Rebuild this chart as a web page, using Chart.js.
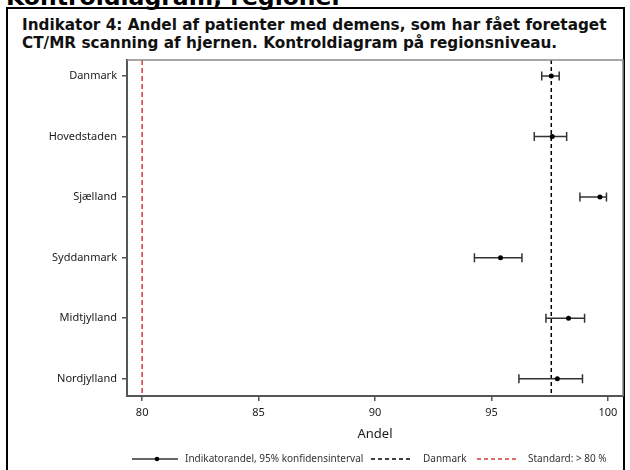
<!DOCTYPE html>
<html lang="da">
<head>
<meta charset="utf-8">
<title>Kontroldiagram, regioner</title>
<script src="https://cdn.jsdelivr.net/npm/chart.js@4/dist/chart.umd.min.js"></script>
<style>
  html, body { margin: 0; padding: 0; background: #fff; }
  #page { position: relative; width: 630px; height: 470px; overflow: hidden; background: #fff; }
  #frame { position: absolute; left: 6px; top: 7px; width: 619px; height: 500px;
           border: 2px solid #000; box-sizing: border-box; }
  #headline { position: absolute; left: 6px; top: -17px; margin: 0;
              font: bold 23.5px "DejaVu Sans", sans-serif; line-height: 28px; color: #000; white-space: nowrap; }
  #subtitle { position: absolute; left: 22px; top: 16.4px; margin: 0;
              font: bold 15.25px "DejaVu Sans", sans-serif; line-height: 18px; color: #111; white-space: nowrap; }
  #wrap { position: absolute; left: 0; top: 0; width: 630px; height: 470px; }
</style>
</head>
<body>
<div id="page">
  <div id="frame"></div>
  <div id="headline">Kontroldiagram, regioner</div>
  <div id="subtitle">Indikator 4: Andel af patienter med demens, som har fået foretaget<br>CT/MR scanning af hjernen. Kontroldiagram på regionsniveau.</div>
  <div id="wrap"><canvas id="chart"></canvas></div>
</div>
<script>
// Regions, top to bottom
const regions = ["Danmark", "Hovedstaden", "Sjælland", "Syddanmark", "Midtjylland", "Nordjylland"];
// Indicator share (%) per region
const estimate = [97.57, 97.61, 99.66, 95.39, 98.31, 97.83];
// 95% confidence interval bounds (%)
const ciLower = [97.16, 96.84, 98.80, 94.27, 97.34, 96.18];
const ciUpper = [97.91, 98.23, 99.94, 96.31, 99.00, 98.91];
// Reference levels
const nationalRate = estimate[0];
const standardRate = 80;
// Axis ticks
const xTicks = [80, 85, 90, 95, 100];
const xTitle = "Andel";
const legendLabels = ["Indikatorandel, 95% konfidensinterval", "Danmark", "Standard: > 80 %"];

const TEXT = "#1a1a1a";
const BAR = "#333";
const RED = "#d23c3c";
const FONT = '"Noto Sans", "Open Sans", sans-serif';

// Confidence intervals and reference lines, drawn under the points
const intervalPlugin = {
  id: "intervals",
  beforeDatasetsDraw(chart) {
    const { ctx, chartArea: a, scales: { x, y } } = chart;
    ctx.save();
    // standard line
    ctx.strokeStyle = RED; ctx.lineWidth = 1.5; ctx.setLineDash([5, 3]);
    let px = x.getPixelForValue(standardRate);
    ctx.beginPath(); ctx.moveTo(px, a.top); ctx.lineTo(px, a.bottom); ctx.stroke();
    // national line
    ctx.strokeStyle = "#000"; ctx.setLineDash([4, 3]);
    px = x.getPixelForValue(nationalRate);
    ctx.beginPath(); ctx.moveTo(px, a.top); ctx.lineTo(px, a.bottom); ctx.stroke();
    // error bars
    ctx.setLineDash([]); ctx.strokeStyle = BAR; ctx.lineWidth = 1.5;
    regions.forEach((_, i) => {
      const py = y.getPixelForValue(i);
      const x1 = x.getPixelForValue(ciLower[i]);
      const x2 = x.getPixelForValue(ciUpper[i]);
      ctx.beginPath();
      ctx.moveTo(x1, py); ctx.lineTo(x2, py);
      ctx.moveTo(x1, py - 4.5); ctx.lineTo(x1, py + 4.5);
      ctx.moveTo(x2, py - 4.5); ctx.lineTo(x2, py + 4.5);
      ctx.stroke();
    });
    ctx.restore();
  },
  afterDatasetsDraw(chart) {
    // light top and right edges of the plot box
    const { ctx, chartArea: a } = chart;
    ctx.save();
    ctx.strokeStyle = "#8a8a8a"; ctx.lineWidth = 1.5;
    ctx.beginPath();
    ctx.moveTo(a.left, a.top); ctx.lineTo(a.right, a.top); ctx.lineTo(a.right, a.bottom);
    ctx.stroke();
    ctx.restore();
  }
};

// Legend row under the axis title
const legendPlugin = {
  id: "legendRow",
  afterDraw(chart) {
    const { ctx } = chart;
    const yy = 459;
    ctx.save();
    ctx.font = "10px " + FONT;
    ctx.fillStyle = "#333";
    ctx.textBaseline = "middle";
    ctx.textAlign = "left";
    // interval + point
    ctx.strokeStyle = BAR; ctx.lineWidth = 1.5;
    ctx.beginPath(); ctx.moveTo(132, yy); ctx.lineTo(178, yy); ctx.stroke();
    ctx.fillStyle = "#000";
    ctx.beginPath(); ctx.arc(157, yy, 2.3, 0, Math.PI * 2); ctx.fill();
    ctx.fillStyle = "#333";
    ctx.fillText(legendLabels[0], 185, yy);
    // national
    ctx.strokeStyle = "#000"; ctx.lineWidth = 1.3; ctx.setLineDash([4, 3]);
    ctx.beginPath(); ctx.moveTo(371, yy); ctx.lineTo(413, yy); ctx.stroke();
    ctx.fillText(legendLabels[1], 423, yy);
    // standard
    ctx.strokeStyle = RED;
    ctx.beginPath(); ctx.moveTo(477, yy); ctx.lineTo(519, yy); ctx.stroke();
    ctx.fillText(legendLabels[2], 528, yy);
    ctx.restore();
  }
};

new Chart(document.getElementById("chart"), {
  type: "scatter",
  data: {
    datasets: [{
      data: estimate.map((v, i) => ({ x: v, y: i })),
      backgroundColor: "#000",
      borderColor: "#000",
      pointRadius: 2.5,
      pointHoverRadius: 2.5,
      borderWidth: 0
    }]
  },
  options: {
    responsive: true,
    maintainAspectRatio: false,
    animation: false,
    events: [],
    layout: { padding: { top: 60, right: 7, left: 0, bottom: 0 } },
    plugins: { legend: { display: false }, tooltip: { enabled: false } },
    scales: {
      x: {
        type: "linear",
        min: 79.35,
        max: 100.65,
        afterBuildTicks: s => { s.ticks = xTicks.map(v => ({ value: v })); },
        afterFit: s => { s.height = 74; },
        ticks: { color: TEXT, font: { family: FONT, size: 11 }, padding: 5, maxRotation: 0 },
        grid: { display: true, drawOnChartArea: false, drawTicks: true, tickLength: 5, color: "#555", lineWidth: 1.5 },
        border: { display: true, color: "#555", width: 2 },
        title: { display: true, text: xTitle, color: TEXT, font: { family: FONT, size: 13 }, padding: { top: 0, bottom: 28 } }
      },
      y: {
        type: "linear",
        reverse: true,
        min: -0.265,
        max: 5.285,
        afterBuildTicks: s => { s.ticks = regions.map((_, i) => ({ value: i })); },
        afterFit: s => { s.width = 127; },
        ticks: { color: TEXT, font: { family: FONT, size: 11 }, padding: 5, callback: v => regions[v] },
        grid: { display: true, drawOnChartArea: false, drawTicks: true, tickLength: 5, color: "#555", lineWidth: 1.5 },
        border: { display: true, color: "#555", width: 2 }
      }
    }
  },
  plugins: [intervalPlugin, legendPlugin]
});
</script>
</body>
</html>
